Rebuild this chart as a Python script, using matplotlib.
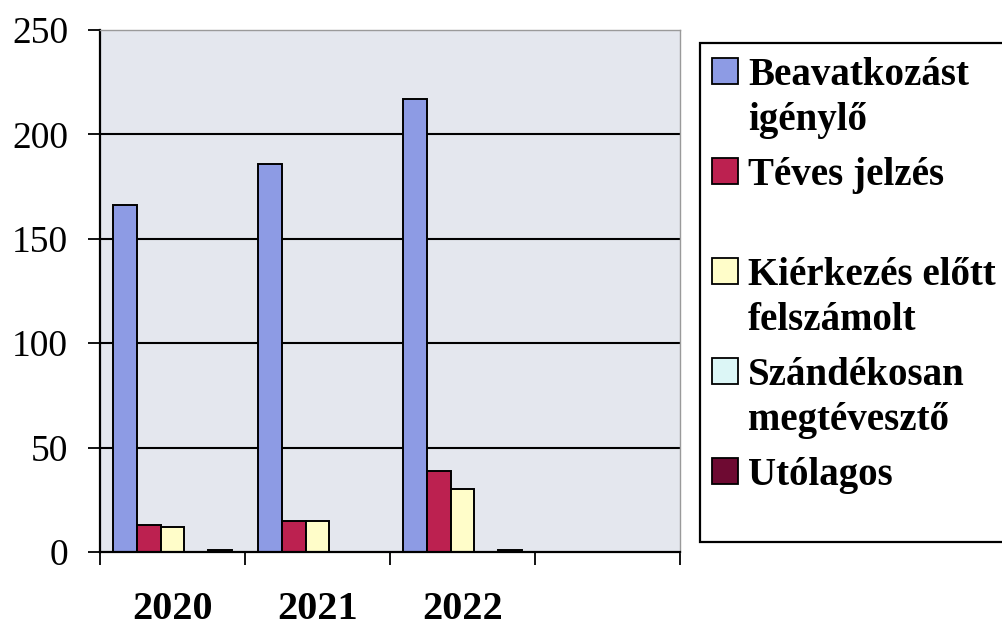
import matplotlib.pyplot as plt
from matplotlib.patches import Rectangle

years = ['2020', '2021', '2022']
series = ['Beavatkozást\nigénylő', 'Téves jelzés', 'Kiérkezés előtt\nfelszámolt',
          'Szándékosan\nmegtévesztő', 'Utólagos']
beavatkozast = [166, 186, 217]
teves = [13, 15, 39]
kierkezes = [12, 15, 30]
szandekosan = [0, 0, 0]
utolagos = [1, 0, 1]
values = [beavatkozast, teves, kierkezes, szandekosan, utolagos]
colors = ['#8d9be4', '#bc2150', '#fffdc9', '#dcf6f6', '#6e0a32']
yticks = [0, 50, 100, 150, 200, 250]

W, H = 1003, 626
fig = plt.figure(figsize=(W / 100, H / 100), dpi=100)
ax = fig.add_axes([100 / W, 1 - 552 / H, 580 / W, 522 / H])
ax.set_facecolor('#e4e7ee')

# 4 slots, only 3 used (like the original excel chart)
nslots = 4
bw = 0.165
for j, (vals, c) in enumerate(zip(values, colors)):
    xs = [i + 0.5 + (j - 2) * bw for i in range(len(years))]
    ax.bar(xs, vals, width=bw, color=c, edgecolor='black', linewidth=1.4, zorder=2)

for y in yticks[1:-1]:
    ax.axhline(y, color='black', lw=1.5, zorder=1)

ax.set_xlim(0, nslots)
ax.set_ylim(0, 250)
ax.set_yticks(yticks)
ax.set_yticklabels([str(v) for v in yticks], family='Liberation Serif', fontsize=27)
ax.tick_params(axis='y', length=9, width=1.3, pad=14, direction='out')

ax.set_xticks(range(nslots + 1), minor=True)
ax.set_xticks([i + 0.5 for i in range(len(years))])
ax.set_xticklabels(years, family='Liberation Serif', fontweight='bold', fontsize=29)
ax.tick_params(axis='x', which='major', length=0, pad=28)
ax.tick_params(axis='x', which='minor', length=9, width=1.3, direction='out')

for s in ['left', 'bottom']:
    ax.spines[s].set_color('black')
    ax.spines[s].set_linewidth(1.6)
for s in ['top', 'right']:
    ax.spines[s].set_color('#9a9a9a')
    ax.spines[s].set_linewidth(1.0)


def fp(x, y):
    return x / W, 1 - y / H


# legend box, drawn by hand so markers sit on first text line
x0, y0 = fp(700, 542)
x1, y1 = fp(1010, 43)
fig.patches.append(Rectangle((x0, y0), x1 - x0, y1 - y0, transform=fig.transFigure,
                             facecolor='white', edgecolor='black', lw=1.6))
for k, (lab, c) in enumerate(zip(series, colors)):
    base = 85 + 100 * k
    sx, sy = fp(712, base - 1)
    fig.patches.append(Rectangle((sx, sy), 26 / W, 26 / H, transform=fig.transFigure,
                                 facecolor=c, edgecolor='black', lw=1.3))
    for n, line in enumerate(lab.split('\n')):
        tx, ty = fp(748, base + 45 * n)
        fig.text(tx, ty, line, family='Liberation Serif', fontweight='bold',
                 fontsize=28, va='baseline', ha='left')

plt.savefig('out.png', dpi=100)
